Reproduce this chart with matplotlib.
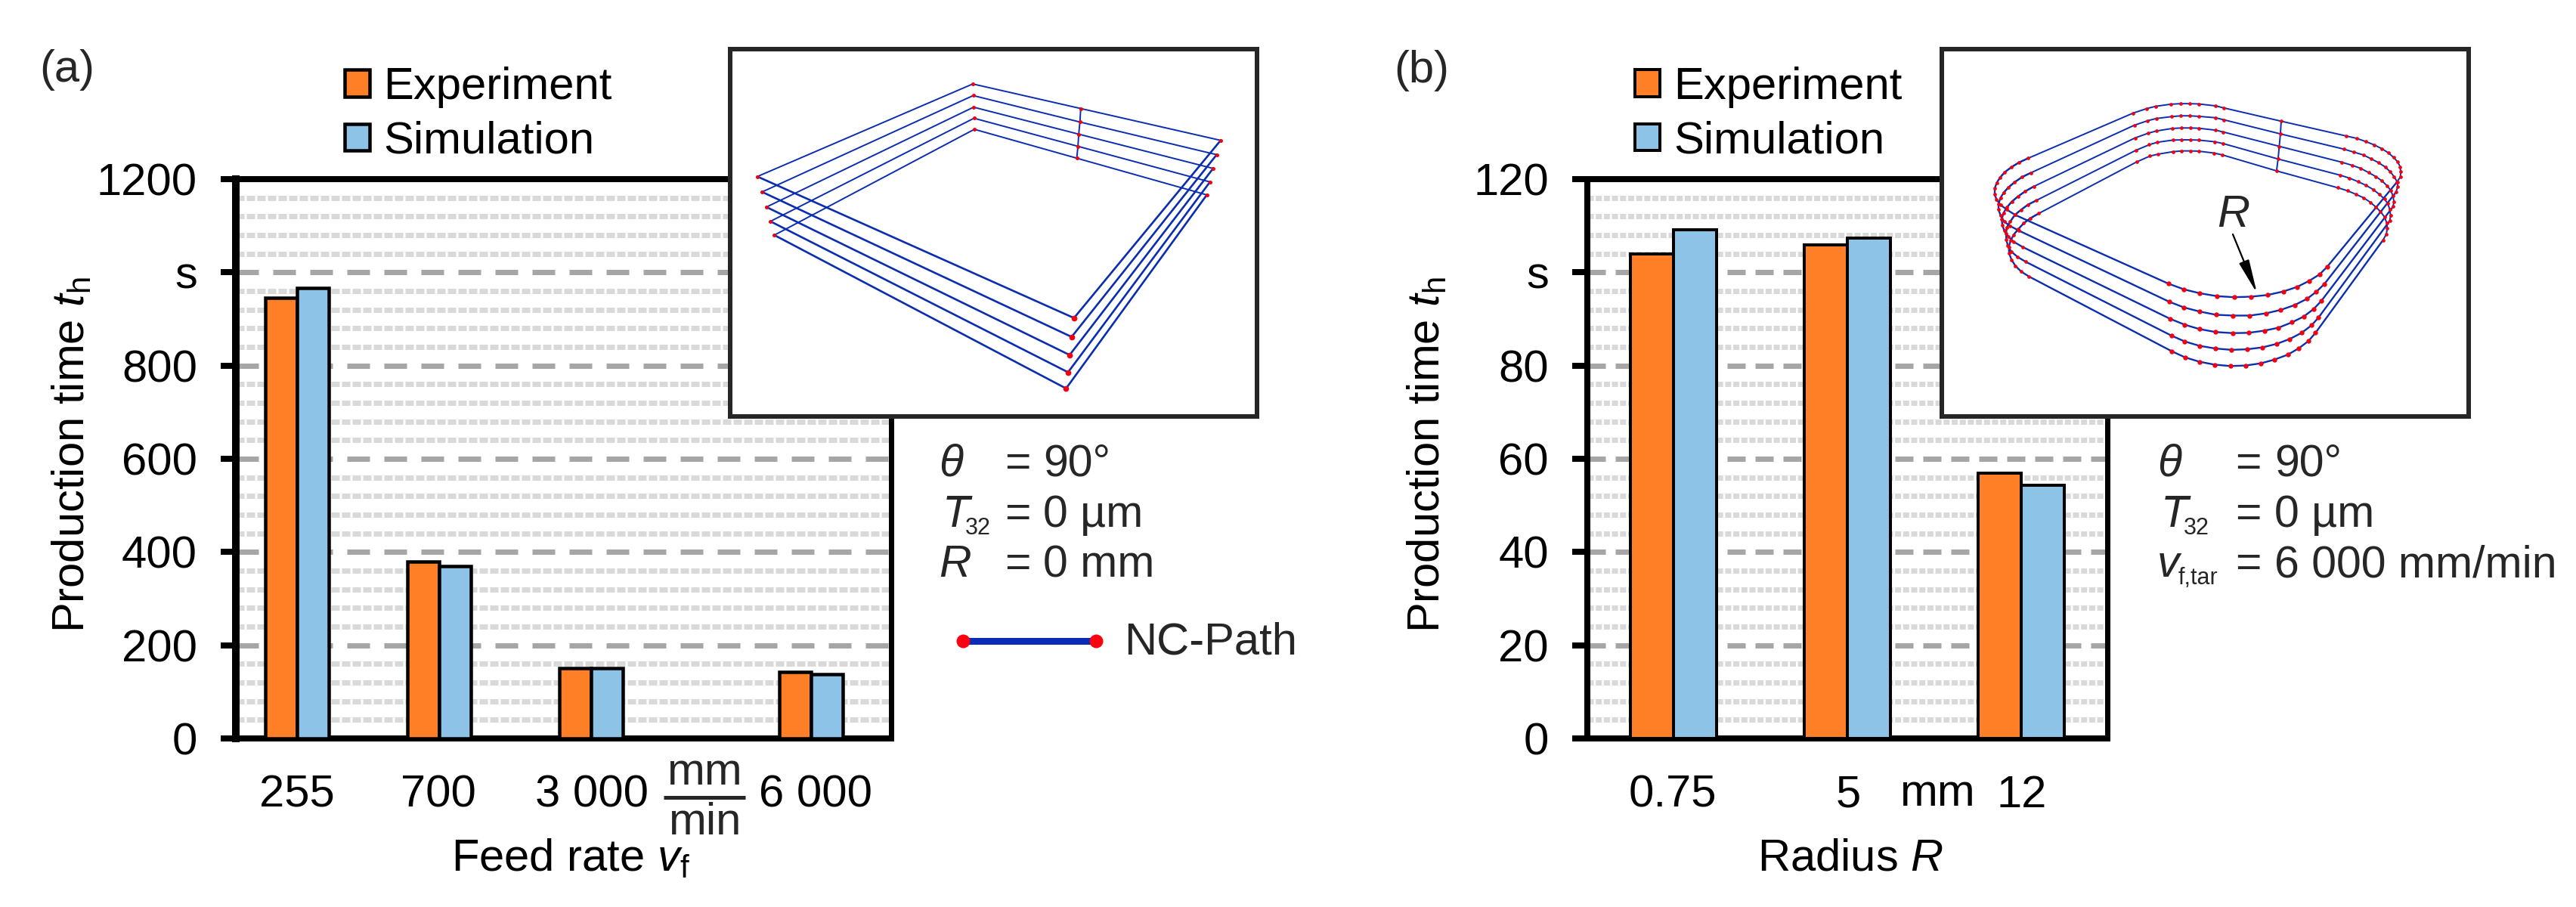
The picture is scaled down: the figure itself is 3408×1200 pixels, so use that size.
import numpy as np
import matplotlib
matplotlib.use("Agg")
import matplotlib.pyplot as plt
from matplotlib.lines import Line2D
from matplotlib.ticker import MultipleLocator

W, H = 3408, 1200
plt.rcParams.update({
    'font.family': 'Liberation Sans', 'mathtext.fontset': 'custom',
    'mathtext.rm': 'Liberation Sans', 'mathtext.it': 'Liberation Sans:italic',
    'mathtext.bf': 'Liberation Sans:bold', 'lines.scale_dashes': False,
    'axes.unicode_minus': False,
})
FS = 43
PT = 0.72  # points per output pixel at dpi 100
ORANGE, BLUE = '#ff7f27', '#8ec3e8'
DARK = '#262626'

# ---------- bar data ----------
labels_a = ['255', '700', '3 000', '6 000']
exp_a = [946, 380, 151, 143]
sim_a = [967, 369, 151, 138]
bar_pos_a = [1.93, 6.40, 11.19, 18.12]
label_pos_a = [1.93, 6.38, 11.21, 18.26]
yticks_a = [0, 200, 400, 600, 800, 's', 1200]

labels_b = ['0.75', '5', '12']
exp_b = [104.0, 105.9, 56.9]
sim_b = [109.2, 107.4, 54.3]
bar_pos_b = [0.497, 1.500, 2.503]
yticks_b = [0, 20, 40, 60, 80, 's', 120]

# ---------- NC path, square (read in the crop frame of inset a) ----------
a_back = [(740, 227), (741, 270), (742, 313), (743, 354), (744, 395)]
a_seam = [(1013, 318), (1011, 368), (1008, 413), (1006, 458), (1003, 502)]
a_right = [(1367, 436), (1357, 489), (1348, 540), (1340, 590), (1332, 638)]
a_front = [(996, 1094), (990, 1164), (985, 1231), (981, 1295), (976, 1355)]
a_left = [(195, 570), (207, 627), (218, 683), (228, 736), (238, 787)]

# ---------- NC path, rounded (read in the crop frames of inset b) ----------
b_top = [
    [(592, 335), (628, 318), (650, 310), (690, 302), (715, 300), (738, 300), (762, 301), (805, 308), (828, 316)],
    [(595, 380), (630, 363), (652, 355), (692, 348), (716, 345), (738, 345), (762, 347), (805, 352), (828, 360)],
    [(597, 427), (632, 409), (653, 401), (693, 392), (717, 390), (740, 390), (762, 391), (805, 398), (826, 405)],
    [(599, 473), (634, 452), (655, 443), (695, 435), (718, 434), (740, 434), (762, 435), (803, 441), (826, 448)],
    [(601, 516), (636, 494), (657, 487), (695, 478), (718, 475), (741, 475), (762, 476), (802, 483), (824, 490)],
]
b_seam = [(976, 365), (974, 412), (971, 458), (968, 505), (964, 549)]
b_front = [
    [(684, 967), (724, 988), (764, 1002), (809, 1013), (854, 1017), (898, 1015), (940, 1009), (981, 996), (1017, 979), (1048, 957), (1076, 932), (1096, 903)],
    [(686, 1034), (724, 1055), (764, 1070), (807, 1082), (851, 1085), (894, 1085), (936, 1077), (975, 1064), (1011, 1046), (1043, 1023), (1067, 997), (1088, 968)],
    [(688, 1097), (726, 1119), (764, 1135), (806, 1146), (850, 1150), (891, 1149), (932, 1141), (969, 1130), (1004, 1110), (1034, 1089), (1060, 1061), (1080, 1031)],
    [(691, 1159), (726, 1181), (764, 1197), (805, 1207), (847, 1212), (887, 1210), (927, 1203), (964, 1190), (998, 1172), (1029, 1149), (1055, 1121), (1073, 1092)],
    [(692, 1217), (727, 1240), (764, 1256), (804, 1267), (845, 1272), (884, 1270), (923, 1262), (959, 1248), (993, 1230), (1022, 1206), (1047, 1179), (1065, 1149)],
]
b_left = [
    [(190, 58), (153, 75), (124, 93), (97, 113), (78, 135), (65, 155), (57, 178), (57, 201), (64, 222), (80, 243), (105, 262), (138, 283)],
    [(200, 116), (165, 133), (136, 153), (112, 173), (93, 194), (80, 215), (72, 240), (72, 262), (80, 285), (95, 310), (118, 327), (152, 345)],
    [(212, 170), (177, 190), (149, 210), (125, 230), (105, 253), (92, 275), (85, 300), (87, 323), (95, 346), (110, 368), (133, 390), (167, 410)],
    [(223, 225), (188, 243), (161, 263), (137, 283), (118, 310), (105, 332), (102, 358), (103, 380), (109, 405), (122, 428), (148, 450), (180, 469)],
    [(232, 277), (199, 296), (172, 316), (150, 340), (132, 362), (120, 385), (113, 410), (114, 435), (124, 462), (139, 485), (162, 508), (192, 527)],
]
b_right = [
    [(73, 60), (113, 69), (150, 82), (183, 95), (213, 110), (240, 127), (260, 145), (276, 162), (286, 182), (288, 202), (287, 222), (273, 243)],
    [(63, 112), (103, 124), (140, 135), (172, 151), (201, 166), (227, 183), (247, 202), (262, 221), (275, 243), (276, 262), (270, 282)],
    [(55, 164), (95, 176), (129, 188), (161, 205), (190, 221), (214, 238), (234, 257), (248, 275), (258, 298), (261, 320), (258, 340)],
    [(47, 215), (85, 227), (119, 241), (151, 256), (179, 272), (203, 291), (224, 310), (237, 328), (245, 352), (248, 375), (245, 396)],
    [(38, 265), (77, 277), (110, 291), (141, 305), (168, 323), (190, 342), (208, 360), (224, 381), (233, 405), (235, 427), (231, 450), (218, 473)],
]


def frame(pts, x0, y0, sx, sy):
    """Crop-frame readings to reference pixels."""
    p = np.asarray(pts, float)
    return np.column_stack([x0 + p[:, 0] / sx, y0 + p[:, 1] / sy])


fig = plt.figure(figsize=(W / 100, H / 100), dpi=100, facecolor='white')


def pxaxes(l, t, r, b, **kw):
    return fig.add_axes([l / W, 1 - b / H, (r - l) / W, (b - t) / H], **kw)


def T(x, y, s, **kw):
    kw.setdefault('fontsize', FS)
    kw.setdefault('color', 'black')
    kw.setdefault('va', 'baseline')
    return fig.text(x / W, 1 - y / H, s, **kw)


def chart(box, xlim, ymax, bar_pos, width, exp, sim, yticks, xlabels, xlabel_pos, maj, mino, spines, ew):
    ax = pxaxes(*box)
    ax.set_xlim(*xlim)
    ax.set_ylim(0, ymax)
    ax.set_axisbelow(True)
    pos = np.array(bar_pos)
    b1 = ax.bar(pos - width / 2, exp, width, color=ORANGE, edgecolor='black', linewidth=ew * PT, label='Experiment', zorder=3)
    b2 = ax.bar(pos + width / 2, sim, width, color=BLUE, edgecolor='black', linewidth=ew * PT, label='Simulation', zorder=3)
    step = ymax / 6
    ax.set_yticks(np.arange(7) * step, [str(v) for v in yticks], fontsize=FS)
    ax.yaxis.set_minor_locator(MultipleLocator(step / 5))
    ax.tick_params(axis='y', which='major', length=20 * PT, width=8 * PT, pad=31 * PT, color='black')
    ax.tick_params(axis='y', which='minor', length=0)
    ax.set_xticks(xlabel_pos, xlabels, fontsize=FS)
    ax.tick_params(axis='x', length=0, pad=48 * PT)
    ax.grid(True, axis='y', which='major', color='#a6a6a6', lw=7 * PT, linestyle=(0, (maj[0] * PT, maj[1] * PT)), dash_capstyle='butt')
    ax.grid(True, axis='y', which='minor', color='#d9d9d9', lw=7 * PT, linestyle=(0, (mino[0] * PT, mino[1] * PT)), dash_capstyle='butt')
    for name, w in spines.items():
        ax.spines[name].set_linewidth(w * PT)
        ax.spines[name].set_color('black')
    return ax, b1, b2


ax_a, a1, a2 = chart((312, 237, 1179, 977), (0, 867 / 42), 1200, bar_pos_a, 1.0, exp_a, sim_a, yticks_a,
                     labels_a, label_pos_a, (30, 19), (11, 3), dict(left=10, top=8, bottom=8, right=7), 4.5)
ax_b, b1, b2 = chart((2100, 237, 2788, 977), (0, 3), 120, bar_pos_b, 0.25, exp_b, sim_b, yticks_b,
                     labels_b, [0.493, 1.505, 2.508], (24, 13), (8, 2.7), dict(left=8, top=8, bottom=8, right=7), 4)

for ax, hs, (lx, ly) in ((ax_a, (a1, a2), (456, 88)), (ax_b, (b1, b2), (2163, 88))):
    ax.legend(hs, ['Experiment', 'Simulation'], loc='upper left', bbox_to_anchor=(lx / W, 1 - ly / H),
              bbox_transform=fig.transFigure, frameon=False, fontsize=FS, borderpad=0, borderaxespad=0,
              handlelength=0.56, handleheight=0.54, handletextpad=0.3, labelspacing=0.28)

# ---------- text ----------
T(52, 108, '(a)', color=DARK)
T(1844, 109, '(b)', color=DARK)
for x in (96, 1889):
    T(x, 602, r'Production time $t_{\mathrm{h}}$', rotation=90, ha='center', va='center')
T(755, 1153, r'Feed rate $v_{\mathrm{f}}$', ha='center')
T(2448, 1152, r'Radius $R$', ha='center')
T(932, 1038, 'mm', ha='center', color=DARK)
T(932, 1104, 'min', ha='center', color=DARK)
fig.add_artist(Line2D([878 / W, 986 / W], [1 - 1055 / H] * 2, color=DARK, lw=5 * PT, solid_capstyle='butt'))
T(2563, 1066, 'mm', ha='center')

for x0, eq, val, rows in (
    (1242, 1329, 1380, [('θ', '90°', None), ('T', '0 µm', '32'), ('R', '0 mm', None)]),
    (2854, 2957, 3009, [('θ', '90°', None), ('T', '0 µm', '32'), ('v', '6 000 mm/min', 'f,tar')]),
):
    for (sym, txt, sub), base in zip(rows, (630, 697, 763)):
        T(x0 + (5 if sym == 'T' else 0), base, sym, style='italic', color=DARK, fontsize=42.5)
        T(eq, base, '=', color=DARK, fontsize=42.5)
        T(val, base, txt, color=DARK, fontsize=42.5)
        if sub:
            T(x0 + (35 if sym == 'T' else 28), base + 10, sub, fontsize=22, color=DARK)

# NC-Path key
key = pxaxes(1264, 835, 1460, 860)
key.set_xlim(0, 1); key.set_ylim(0, 1); key.axis('off')
key.plot([0.05, 0.95], [0.5, 0.5], color='#0a2bb8', lw=9 * PT, solid_capstyle='butt', zorder=2)
key.plot([0.05, 0.95], [0.5, 0.5], ls='none', marker='o', ms=18 * PT, mfc='#ff0010', mec='none', zorder=3, clip_on=False)
T(1487, 866, 'NC-Path', color=DARK)


# ---------- insets ----------
def inset(l, t, r, b):
    ax = pxaxes(l + 3, t + 3, r - 3, b - 3, zorder=10, facecolor='white')
    ax.set_xlim(l + 3, r - 3)
    ax.set_ylim(b - 3, t + 3)
    ax.set_xticks([]); ax.set_yticks([])
    for s in ax.spines.values():
        s.set_linewidth(6 * PT)
        s.set_color(DARK)
    return ax


LINE, RED = '#0b2eb0', '#f5000f'
ia = inset(963, 62, 1666, 554)
f_a = lambda p: frame(p, 900, 30, 1568 / 820, 2.8)
pa = [f_a(p) for p in (a_back, a_seam, a_right, a_front, a_left)]
for i in range(5):
    back, seam, right, front, left = [p[i] for p in pa]
    ia.plot(*np.array([left, back, seam, right]).T, color=LINE, lw=1.4)
    ia.plot(*np.array([right, front, left]).T, color=LINE, lw=1.9)
    ia.plot(*np.array([back, seam, right, left]).T, ls='none', marker='o', ms=3.6, mfc=RED, mec='none', zorder=4)
    ia.plot(*front, ls='none', marker='o', ms=5.5, mfc=RED, mec='none', zorder=4)
ia.plot(*pa[1].T, color=LINE, lw=1.4, zorder=2)

ib = inset(2566, 62, 3269, 554)
f_b3 = lambda p: frame(p, 2520, 30, 1.96, 2.8)
f_b7 = lambda p: frame(p, 2620, 190, 3, 3)
f_b8 = lambda p: frame(p, 3080, 160, 3, 3)
seam_b = f_b3(b_seam)
for i in range(5):
    top = f_b3(b_top[i])
    right = f_b8(b_right[i])
    front = f_b3(b_front[i])[::-1]
    left = f_b7(b_left[i])[::-1]
    upper = np.vstack([left[-5:], top, seam_b[i:i + 1], right])
    lower = np.vstack([right[-1:], front, left])
    ib.plot(*upper.T, color=LINE, lw=1.4)
    ib.plot(*lower.T, color=LINE, lw=1.7)
    ib.plot(*np.vstack([top, seam_b[i:i + 1], right, left]).T, ls='none', marker='o', ms=3.4, mfc=RED, mec='none', zorder=4)
    ib.plot(*front.T, ls='none', marker='o', ms=4.6, mfc=RED, mec='none', zorder=4)
ib.plot(*seam_b.T, color=LINE, lw=1.4)
ib.text(2955, 300, 'R', fontsize=FS, style='italic', ha='center', va='baseline', color=DARK)
ib.annotate('', xy=(2986, 388), xytext=(2954, 310),
            arrowprops=dict(arrowstyle='-|>,head_length=0.9,head_width=0.14', color='black', lw=1.6, shrinkA=0, shrinkB=0, mutation_scale=30))

fig.savefig('out.png', dpi=100, facecolor='white')
